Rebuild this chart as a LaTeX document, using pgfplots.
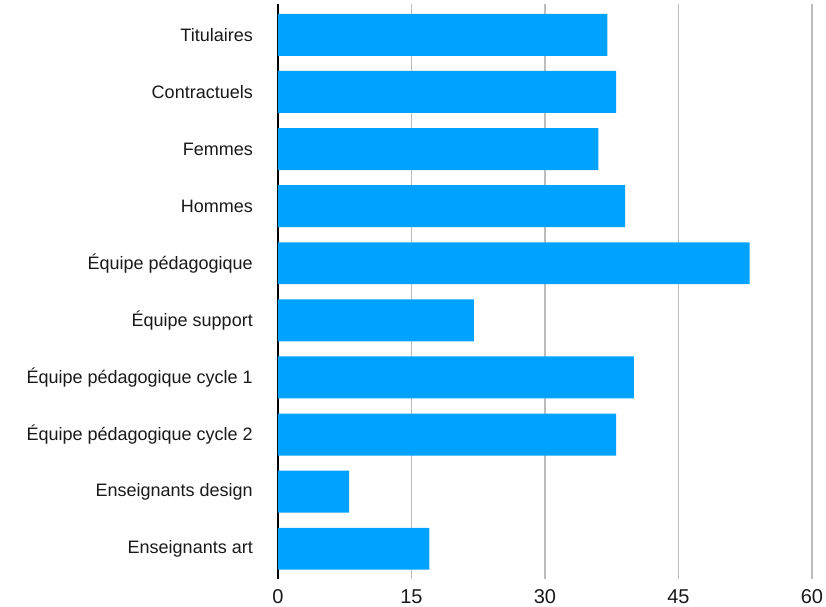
\documentclass[border=0pt]{standalone}
\usepackage{pgfplots}
\pgfplotsset{compat=1.18}
\usepackage{fontspec}
\setmainfont{Liberation Sans}
\definecolor{barblue}{HTML}{00A2FF}
\definecolor{gridgray}{HTML}{BDBDBD}
\begin{document}
\begin{tikzpicture}[x=1bp,y=1bp]
\useasboundingbox (-278bp,-28bp) rectangle (548bp,579bp);
\begin{axis}[
  at={(0,0)}, anchor=south west,
  scale only axis,
  width=534bp, height=575bp,
  xbar, bar width=0.735,
  xmin=0, xmax=60,
  ymin=-0.53, ymax=9.54,
  xtick={0,15,30,45,60},
  ytick={0,...,9},
  yticklabels={Enseignants art,Enseignants design,Équipe pédagogique cycle 2,Équipe pédagogique cycle 1,Équipe support,Équipe pédagogique,Hommes,Femmes,Contractuels,Titulaires},
  axis x line*=bottom, axis y line*=left,
  x axis line style={draw=none},
  y axis line style={draw=black, line width=1.8bp},
  major tick length=0pt,
  xmajorgrids, major grid style={gridgray, line width=1.9bp},
  tick label style={text=black!90, inner sep=0pt},
  yticklabel style={font=\fontsize{18bp}{20bp}\selectfont, xshift=-25bp},
  xticklabel style={font=\fontsize{20bp}{22bp}\selectfont, yshift=-10.5bp},
  /pgf/number format/assume math mode=true,
  clip=false,
]
\addplot[fill=barblue, draw=none] coordinates {
(17,0) (8,1) (38,2) (40,3) (22,4) (53,5) (39,6) (36,7) (38,8) (37,9)};
\end{axis}
\end{tikzpicture}
\end{document}
